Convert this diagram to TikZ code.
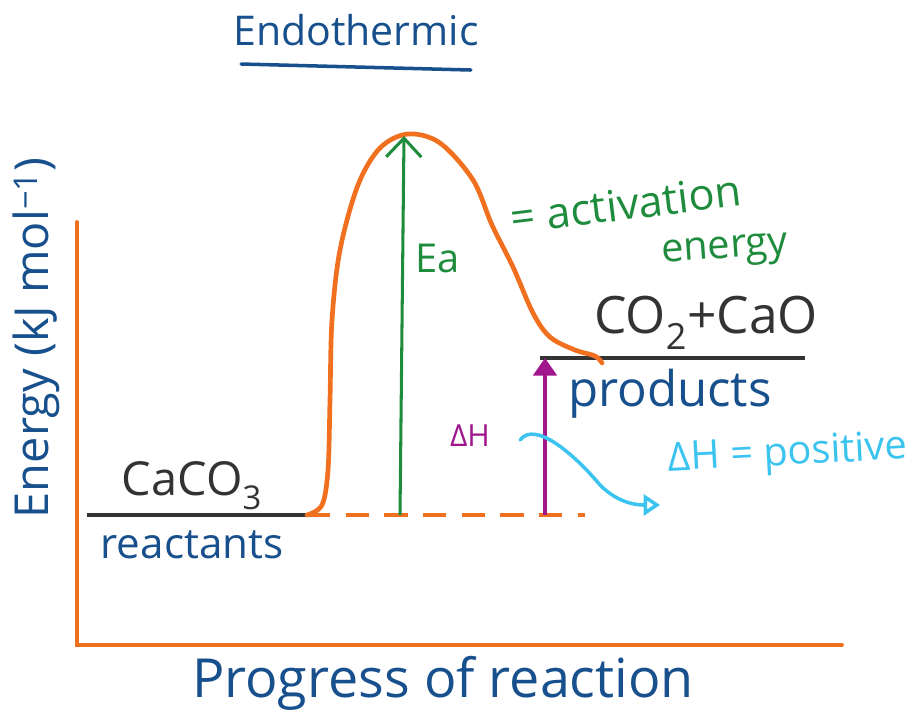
\documentclass[tikz,border=0pt]{standalone}
\usepackage{fontspec}
\setmainfont{Open Sans}
\usetikzlibrary{arrows.meta,calc}
\definecolor{inkblue}{HTML}{17508C}
\definecolor{inkorange}{HTML}{F07020}
\definecolor{inkgreen}{HTML}{1E8C3C}
\definecolor{inkpurple}{HTML}{A0168C}
\definecolor{inkcyan}{HTML}{3CC4F0}
\definecolor{inkgrey}{HTML}{333333}

\begin{document}
\begin{tikzpicture}[x=0.03cm,y=-0.03cm,
    hand/.style={inner sep=0pt,font=\fontsize{#1}{#1}\selectfont},
    hand/.default=30pt,
    axisline/.style={inkorange,line width=3.2pt,line cap=round},
    levelline/.style={inkgrey,line width=2.6pt},
    profile/.style={inkorange,line width=4pt,line cap=round}]
    \useasboundingbox (0,0) rectangle (914,720);
    % axes
    \coordinate (origin) at (77,645);
    \coordinate (ytop) at (77,222);
    \coordinate (xend) at (842,645);
    \draw[axisline] (ytop) -- (origin) -- (xend);
    \node[hand=40pt,text=inkblue,rotate=90] (ylabel) at (36,338) {Energy (kJ mol\textsuperscript{−1})};
    \node[hand=46pt,text=inkblue] (xlabel) at (443,683) {Progress of reaction};
    % title
    \node[hand=35pt,text=inkblue] (title) at (356,30) {Endothermic};
    \draw[inkblue,line width=3pt,line cap=round] ($(title.south west)+(8,18)$) -- ($(title.south east)+(-8,24)$);
    % levels
    \coordinate (rleft) at (87,515);
    \coordinate (rright) at (307,515);
    \coordinate (pleft) at (540,358);
    \coordinate (pright) at (805,358);
    \draw[levelline] (rleft) -- (rright);
    \draw[levelline] (pleft) -- (pright);
    \node[hand=40pt,text=inkgrey] (reactant) at (192,486) {CaCO\textsubscript{3}};
    \node[hand=36pt,text=inkblue] (reactantname) at (192,545) {reactants};
    \node[hand=44pt,text=inkgrey] (product) at (706,323) {CO\textsubscript{2}+CaO};
    \node[hand=42pt,text=inkblue] (productname) at (670,394) {products};
    % energy profile
    \draw[profile] plot[smooth,tension=0.55] coordinates {(307,515) (322,505) (328,470) (330,400)
      (332,320) (340,250) (358,185) (380,148) (408,134) (440,143) (473,180) (492,225)
      (513,267) (533,313) (550,337) (575,350) (595,356) (602,363)};
    \coordinate (dashend) at (585,515);
    \draw[inkorange,line width=3.2pt,dash pattern=on 20pt off 13pt] (rright) -- (dashend);
    % activation energy
    \coordinate (eabase) at (400,515);
    \coordinate (peak) at (404,136);
    \draw[inkgreen,line width=2.6pt,-{Straight Barb[length=16pt,width=30pt]}] (eabase) -- (peak);
    \node[hand=34pt,text=inkgreen] (ea) at (438,258) {Ea};
    \node[hand=37pt,text=inkgreen,rotate=7] (eadef) at (626,204) {= activation};
    \node[hand=34pt,text=inkgreen,rotate=4] (eaword) at (725,252) {energy};
    % enthalpy change
    \coordinate (dhbase) at (545,515);
    \draw[inkpurple,line width=3pt,-{Triangle[length=15pt,width=20pt]}] (dhbase) -- (pleft -| dhbase);
    \node[hand=26pt,text=inkpurple] (dh) at (470,436) {ΔH};
    \node[hand=34pt,text=inkcyan,rotate=3] (dhdef) at (788,455) {ΔH = positive};
    \draw[inkcyan,line width=3pt,line cap=round,-{Triangle[open,length=14pt,width=18pt]}]
      ($(dh.east)+(30,4)$) .. controls (535,420) and (575,455) .. (600,485)
      .. controls (620,505) and (640,505) .. (660,505);
\end{tikzpicture}
\end{document}
